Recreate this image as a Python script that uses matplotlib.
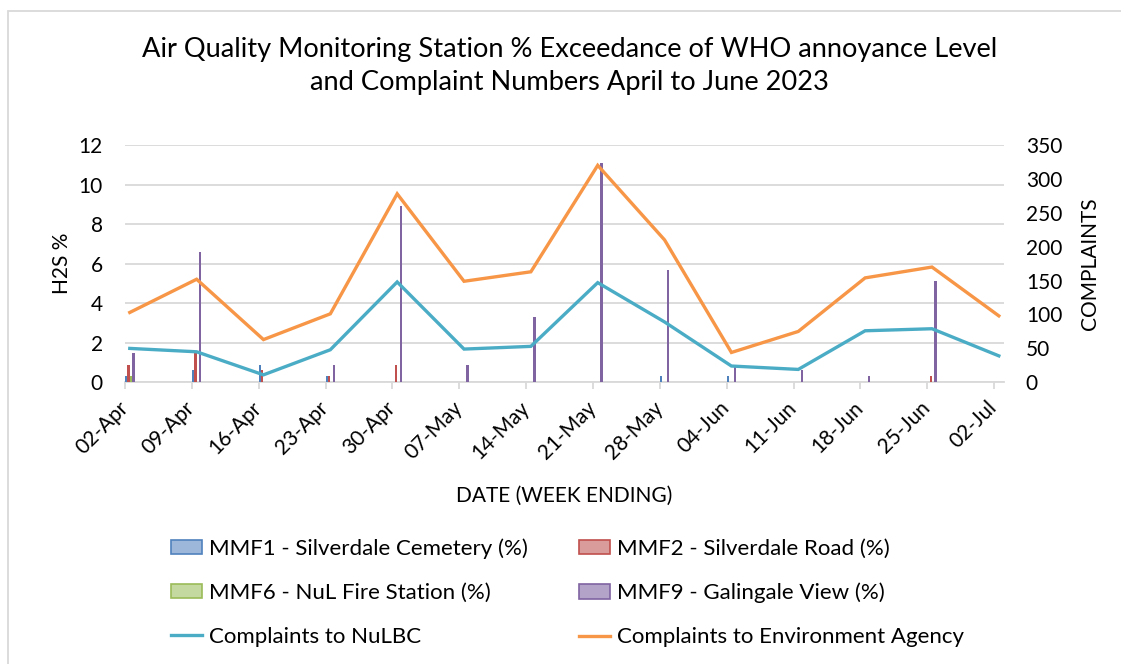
import matplotlib
matplotlib.use("Agg")
import matplotlib.pyplot as plt
from matplotlib.patches import Patch, Rectangle
from matplotlib.lines import Line2D
import numpy as np

# week ending dates and readings taken off the chart
weeks = ["02-Apr", "09-Apr", "16-Apr", "23-Apr", "30-Apr", "07-May", "14-May",
         "21-May", "28-May", "04-Jun", "11-Jun", "18-Jun", "25-Jun", "02-Jul"]
mmf1 = [0.3, 0.6, 0.9, 0.3, 0, 0, 0, 0, 0.3, 0.3, 0, 0, 0, 0]
mmf2 = [0.9, 1.5, 0.6, 0.3, 0.9, 0, 0, 0, 0, 0, 0, 0, 0.3, 0]
mmf6 = [0.3, 0, 0, 0, 0, 0, 0, 0, 0, 0, 0, 0, 0, 0]
mmf9 = [1.5, 6.6, 0, 0.9, 8.9, 0.9, 3.3, 11.1, 5.7, 0.9, 0.6, 0.3, 5.1, 0]
nulbc = [50, 45, 11, 48, 148, 49, 53, 147, 89, 24, 19, 76, 79, 39]
ea = [103, 152, 63, 101, 278, 149, 163, 320, 210, 44, 75, 154, 170, 98]

bar_names = ["MMF1 - Silverdale Cemetery (%)", "MMF2 - Silverdale Road (%)",
             "MMF6 - NuL Fire Station (%)", "MMF9 - Galingale View (%)"]
bar_cols = ["#4F81BD", "#C0504D", "#9BBB59", "#8064A2"]
bar_fill = ["#9DB7DA", "#DA9C9A", "#C4D99F", "#B3A3C9"]

plt.rcParams["font.family"] = ["Lato", "DejaVu Sans"]
grid_c = "#D9D9D9"

fig = plt.figure(figsize=(11.21, 6.64), dpi=100)
ax = fig.add_axes([125 / 1121, 1 - 382.3 / 664, (1003.6 - 125) / 1121, (382.3 - 145) / 664])
ax2 = ax.twinx()

# day offsets from 02-Apr (date axis, one slot per day)
days = np.arange(len(weeks)) * 7

for k, vals in enumerate([mmf1, mmf2, mmf6, mmf9]):
    ax.bar(days + (k + 0.5) / 4, vals, width=0.25, color=bar_cols[k], zorder=3)

ax2.plot(days + 0.5, nulbc, color="#4BACC6", lw=2.4, solid_joinstyle="miter", zorder=4)
ax2.plot(days + 0.5, ea, color="#F79646", lw=2.4, solid_joinstyle="miter", zorder=4)

ax.set_xlim(0, 92)
ax.set_ylim(0, 12)
ax.set_yticks(range(0, 13, 2))
ax2.set_ylim(0, 350)
ax2.set_yticks(range(0, 351, 50))
ax.set_xticks(days)
ax.set_xticklabels(weeks, rotation=45, ha="right", va="center", rotation_mode="anchor")

ax.grid(axis="y", color=grid_c, lw=1.3, zorder=0)
ax.set_axisbelow(True)
for a in (ax, ax2):
    for s in a.spines.values():
        s.set_visible(False)
ax.spines["bottom"].set_visible(True)
ax.spines["bottom"].set_color(grid_c)
ax.spines["bottom"].set_linewidth(1.3)
ax.tick_params(axis="x", length=5, color=grid_c, width=1.3, labelsize=15, pad=11)
ax.tick_params(axis="y", length=0, labelsize=15, pad=16)
ax2.tick_params(axis="y", length=0, labelsize=15, pad=16)

ax.set_ylabel("H2S %", fontsize=15, labelpad=5)
ax2.set_ylabel("COMPLAINTS", fontsize=15, labelpad=13)
ax.set_xlabel("DATE (WEEK ENDING)", fontsize=15, labelpad=17)

fig.suptitle("Air Quality Monitoring Station % Exceedance of WHO annoyance Level\n"
             "and Complaint Numbers April to June 2023",
             x=0.508, y=0.945, fontsize=19.6, linespacing=1.42)

h = [Patch(facecolor=bar_fill[k], edgecolor=bar_cols[k], lw=1.2, label=bar_names[k]) for k in range(4)]
h_nul = Line2D([], [], color="#4BACC6", lw=2.4, label="Complaints to NuLBC")
h_ea = Line2D([], [], color="#F79646", lw=2.4, label="Complaints to Environment Agency")
# matplotlib fills legend columns first, so order for row-wise reading
handles = [h[0], h[2], h_nul, h[1], h[3], h_ea]
fig.legend(handles=handles, ncol=2, loc="upper left", bbox_to_anchor=(160 / 1121, 1 - 527 / 664),
           frameon=False, fontsize=16, handlelength=1.4, handleheight=0.6,
           handletextpad=0.3, labelspacing=1.08, columnspacing=2.3, borderpad=0)

# outer chart border
fig.patches.append(Rectangle((8 / 1121, -0.1), 1.2, 1 - 11 / 664 + 0.1, transform=fig.transFigure,
                             fill=False, edgecolor=grid_c, lw=1.3))

fig.savefig("out.png", dpi=100)
